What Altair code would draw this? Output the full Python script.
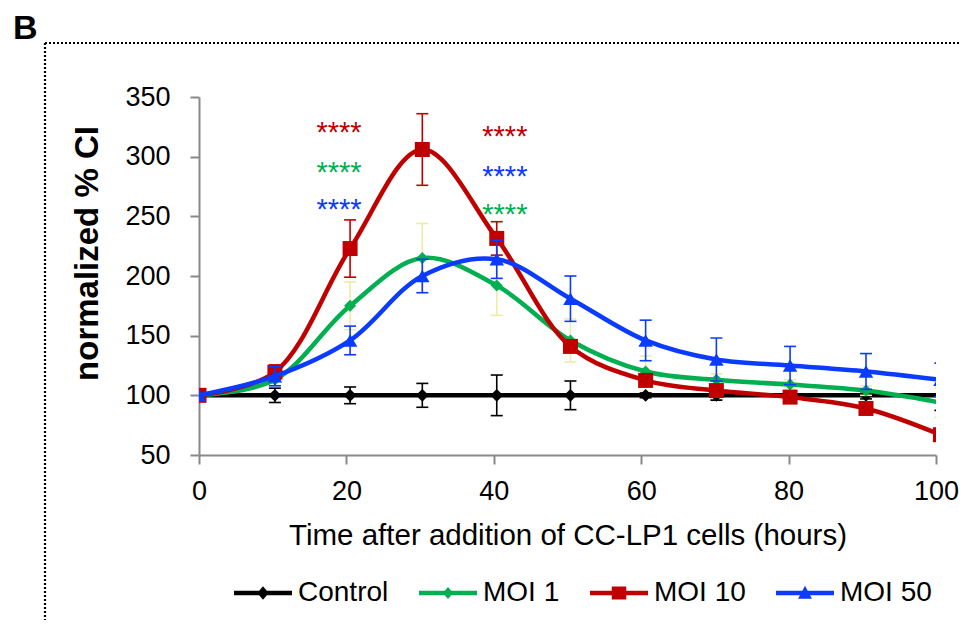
import altair as alt
import pandas as pd

FONT = "Liberation Sans"

# ---------------- data ----------------
time = [0, 10.3, 20.5, 30.3, 40.4, 50.4, 60.6, 70.2, 80.2, 90.5, 100.6]

control = [100, 100, 100, 100, 100, 100, 100, 100, 100, 100, 100]
control_err = [0, 6, 7, 10, 17, 12, 2, 4, 2, 3, 12.6]

moi1 = [100, 113, 175, 215, 192, 146, 120, 113, 109, 104, 94]
moi1_err = [0, 5, 20, 29, 25, 18, 13, 5, 4, 4, 12.5]

moi10 = [100, 119.5, 223, 306, 231.5, 141, 112.5, 104, 98.5, 89, 67]
moi10_err = [0, 6, 24, 30, 14, 5, 4, 3, 3, 3, 2]

moi50 = [100, 116, 146, 200, 214, 181, 146, 130, 125, 120, 113]
moi50_err = [0, 8, 12, 14, 16, 19, 17, 18, 16, 15, 14]

series_names = ["Control", "MOI 1", "MOI 10", "MOI 50"]
series_values = [control, moi1, moi10, moi50]
series_errors = [control_err, moi1_err, moi10_err, moi50_err]

# significance annotations
star_text = ["****", "****", "****", "****", "****", "****"]
star_x = [19.0, 19.0, 19.0, 41.5, 41.5, 41.5]
star_y = [312, 278.5, 247.5, 308.7, 275.4, 243.9]
star_series = ["MOI 10", "MOI 1", "MOI 50", "MOI 10", "MOI 50", "MOI 1"]

x_ticks = [0, 20, 40, 60, 80, 100]
y_ticks = [50, 100, 150, 200, 250, 300, 350]

# ---------------- styles ----------------
line_colors = {"Control": "#000000", "MOI 1": "#00B050", "MOI 10": "#C00000", "MOI 50": "#0A3BFF"}
err_colors = {"Control": "#000000", "MOI 1": "#EEEBA6", "MOI 10": "#C00000", "MOI 50": "#0A3BFF"}
marker_shape = {"Control": "diamond", "MOI 1": "diamond", "MOI 10": "square", "MOI 50": "triangle-up"}
marker_size = {"Control": 165, "MOI 1": 145, "MOI 10": 225, "MOI 50": 210}
legend_paths = [
    "M-1,-0.08L1,-0.08L1,0.08L-1,0.08Z M0,-0.23L0.2,0L0,0.23L-0.2,0Z",
    "M-1,-0.08L1,-0.08L1,0.08L-1,0.08Z M0,-0.21L0.18,0L0,0.21L-0.18,0Z",
    "M-1,-0.08L1,-0.08L1,0.08L-1,0.08Z M-0.25,-0.22L0.25,-0.22L0.25,0.22L-0.25,0.22Z",
    "M-1,-0.08L1,-0.08L1,0.08L-1,0.08Z M0,-0.25L0.24,0.2L-0.24,0.2Z",
]

AXIS_GRAY = "#898989"
xscale = alt.Scale(domain=[0, 100], nice=False, zero=False)
yscale = alt.Scale(domain=[50, 350], nice=False, zero=False)

x_axis = alt.Axis(
    values=x_ticks, title="Time after addition of CC-LP1 cells (hours)",
    grid=False, domainColor=AXIS_GRAY, domainWidth=2, tickColor=AXIS_GRAY,
    tickWidth=2, tickSize=9, labelFont=FONT, labelFontSize=27, labelColor="black",
    labelPadding=14, labelFlush=False, titleFont=FONT, titleFontSize=29.5,
    titleFontWeight="normal", titleColor="black", titleBaseline="alphabetic",
    titleY=89, titleAlign="center",
)
y_axis = alt.Axis(
    values=y_ticks, title="normalized % CI",
    grid=False, domainColor=AXIS_GRAY, domainWidth=2, tickColor=AXIS_GRAY,
    tickWidth=2, tickSize=9, labelFont=FONT, labelFontSize=27, labelColor="black",
    labelPadding=20, labelFlush=False, titleFont=FONT, titleFontSize=33,
    titleFontWeight="bold", titleColor="black", titleAngle=270,
    titleBaseline="alphabetic", titleAlign="center", titleX=-102, titleY=156,
)


def X(field):
    return alt.X(field, scale=xscale, axis=x_axis)


def Y(field):
    return alt.Y(field, scale=yscale, axis=y_axis)


rows = []
for name, vals, errs in zip(series_names, series_values, series_errors):
    for t, v, e in zip(time, vals, errs):
        rows.append({"series": name, "time": t, "value": v, "lo": v - e, "hi": v + e, "err": e})
df = pd.DataFrame(rows)

layers = []
for name in series_names:
    sdf = df[df["series"] == name]
    edf = sdf[sdf["err"] > 0]
    # error bars
    layers.append(
        alt.Chart(edf).mark_rule(color=err_colors[name], strokeWidth=1.6, clip=True).encode(
            x=X("time:Q"), y=Y("lo:Q"), y2="hi:Q")
    )
    layers.append(
        alt.Chart(edf).transform_fold(["lo", "hi"], as_=["k", "v"]).mark_tick(
            orient="horizontal", size=12, thickness=1.6, color=err_colors[name], clip=True, opacity=1
        ).encode(x=X("time:Q"), y=Y("v:Q"))
    )
    # line
    layers.append(
        alt.Chart(sdf).mark_line(color=line_colors[name], strokeWidth=4.5,
                                 interpolate="catmull-rom", clip=True).encode(
            x=X("time:Q"), y=Y("value:Q"))
    )
    # markers
    layers.append(
        alt.Chart(sdf).mark_point(filled=True, shape=marker_shape[name], size=marker_size[name],
                                  color=line_colors[name], opacity=1, clip=True).encode(
            x=X("time:Q"), y=Y("value:Q"))
    )

# significance stars
star_df = pd.DataFrame({"text": star_text, "time": star_x, "value": star_y,
                        "c": [line_colors[s] for s in star_series]})
layers.append(
    alt.Chart(star_df).mark_text(font=FONT, fontSize=29, baseline="alphabetic", align="center").encode(
        x=X("time:Q"), y=Y("value:Q"),
        text="text:N", color=alt.Color("c:N", scale=None))
)

# legend (line + marker symbols), drawn from points clipped away outside the plot
legend_df = pd.DataFrame({"series": series_names, "time": [-50] * 4, "value": [200] * 4})
leg = alt.Legend(
    title=None, orient="none", direction="horizontal", columns=4, legendX=35, legendY=467,
    labelFont=FONT, labelFontSize=28, labelColor="black", labelOffset=6,
    columnPadding=30, symbolSize=3364, symbolStrokeWidth=0, padding=0,
    symbolOpacity=1, labelLimit=300,
)
layers.append(
    alt.Chart(legend_df).mark_point(filled=True, size=3364, opacity=1, clip=True).encode(
        x=X("time:Q"), y=Y("value:Q"),
        fill=alt.Fill("series:N", scale=alt.Scale(domain=series_names,
                                                   range=[line_colors[s] for s in series_names]),
                      legend=leg),
        shape=alt.Shape("series:N", scale=alt.Scale(domain=series_names, range=legend_paths),
                        legend=leg),
    )
)

# panel label and dotted frame
one = alt.Data(values=[{"a": 1}])
layers.append(
    alt.Chart(one).mark_text(text="B", font=FONT, fontSize=34, fontWeight="bold",
                             align="left", baseline="alphabetic", color="black").encode(
        x=alt.value(-186), y=alt.value(-58))
)
layers.append(
    alt.Chart(one).mark_rule(color="black", strokeWidth=2.2, strokeDash=[2, 2]).encode(
        x=alt.value(-154), x2=alt.value(800), y=alt.value(-54))
)
layers.append(
    alt.Chart(one).mark_rule(color="black", strokeWidth=2.2, strokeDash=[2, 2]).encode(
        x=alt.value(-154), y=alt.value(-54), y2=alt.value(600))
)

chart = alt.layer(*layers).properties(
    width=737, height=358,
    padding={"left": 191, "top": 89, "right": 25, "bottom": 165},
    autosize=alt.AutoSizeParams(type="none"),
    background="white",
).configure_view(stroke=None)

chart.save("out.html", embed_options={"renderer": "svg", "actions": False})
